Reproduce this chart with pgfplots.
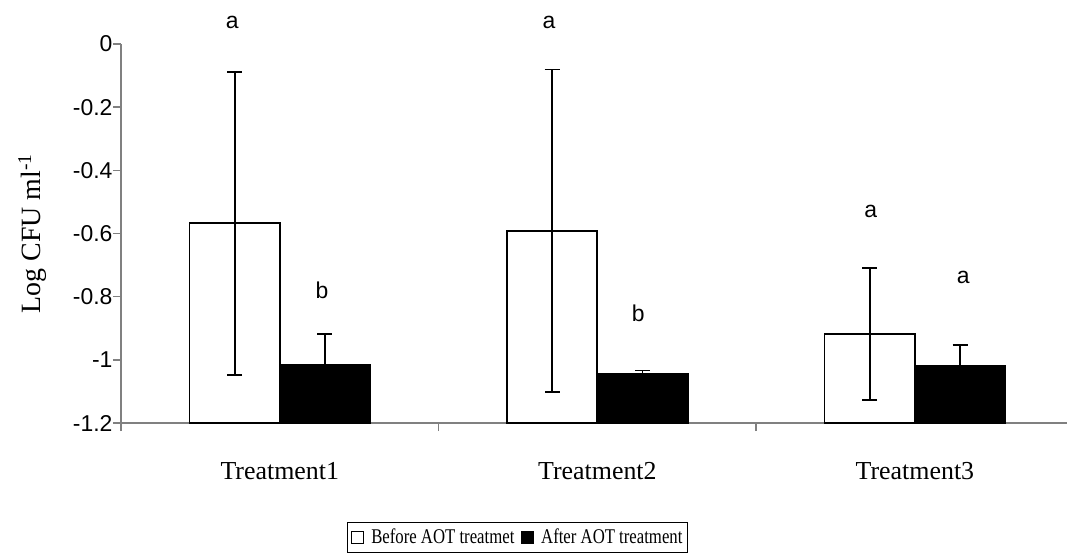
\documentclass[border=0pt]{standalone}
\usepackage{pgfplots}
\pgfplotsset{compat=1.18}
\usepackage{pgfplotstable}
\usepackage{fontspec}
\setmainfont{Liberation Serif}
\newfontfamily\arial{Liberation Sans}
\newfontfamily\legfont[FakeStretch=0.8]{Liberation Serif}

\pgfplotstableread{
x  b       eb     a       ea
1  -0.568  0.480  -1.015  0.098
2  -0.591  0.510  -1.045  0.011
3  -0.917  0.209  -1.020  0.066
}\datatable

\begin{document}
\begin{tikzpicture}
\begin{axis}[
  at={(0,0)}, anchor=south west,
  scale only axis,
  width=946bp, height=379bp,
  xmin=0.5, xmax=3.479,
  ymin=0, ymax=1.2,
  axis x line=bottom, axis y line=left,
  axis line style={-, draw=gray, line width=1.4bp},
  tick style={draw=gray, line width=1.4bp},
  tick align=outside,
  major tick length=8bp,
  xtick={0.5,1.5,2.5},
  xticklabels={,,},
  extra x ticks={1,2,3},
  extra x tick labels={Treatment1,Treatment2,Treatment3},
  extra x tick style={major tick length=0pt,
    tick label style={anchor=base, yshift=-56bp, font=\fontsize{26}{30}\selectfont}},
  ytick={0,0.2,0.4,0.6,0.8,1.0,1.2},
  yticklabels={-1.2,-1,-0.8,-0.6,-0.4,-0.2,0},
  yticklabel style={font=\arial\fontsize{23}{27}\selectfont, xshift=3bp},
  ylabel={Log CFU ml\textsuperscript{-1}},
  every axis y label/.style={at={(axis description cs:-0.094,0.5)}, rotate=90, anchor=center,
    font=\fontsize{28}{32}\selectfont},
  ybar=0pt, bar width=0.2845,
  clip=false,
  legend columns=2,
  legend style={at={(axis description cs:0.4191,-0.3008)}, anchor=center,
    draw=black, line width=0.7bp, font=\legfont\fontsize{21}{25}\selectfont,
    inner xsep=3bp, inner ysep=5bp,
    /tikz/every even column/.append style={column sep=4bp}},
  legend image code/.code={\draw[#1, line width=0.9bp] (0bp,-6bp) rectangle (12bp,6bp); \path (0bp,0bp) (17bp,0bp);},
]
\addplot[fill=white, draw=black, line width=1.8bp,
  error bars/.cd, y dir=both, y explicit,
  error bar style={black, line width=1.8bp},
  error mark options={rotate=90, mark size=7.5bp, line width=1.8bp, black}]
  table[x=x, y expr=\thisrow{b}+1.2, y error=eb]{\datatable};
\addlegendentry{Before AOT treatmet}
\addplot[fill=black, draw=black, line width=1.8bp,
  error bars/.cd, y dir=both, y explicit,
  error bar style={black, line width=1.8bp},
  error mark options={rotate=90, mark size=7.5bp, line width=1.8bp, black}]
  table[x=x, y expr=\thisrow{a}+1.2, y error=ea]{\datatable};
\addlegendentry{After AOT treatment}

\node[font=\arial\fontsize{23}{27}\selectfont] at (axis cs:0.85,1.268) {a};
\node[font=\arial\fontsize{23}{27}\selectfont] at (axis cs:1.133,0.421) {b};
\node[font=\arial\fontsize{23}{27}\selectfont] at (axis cs:1.848,1.268) {a};
\node[font=\arial\fontsize{23}{27}\selectfont] at (axis cs:2.129,0.347) {b};
\node[font=\arial\fontsize{23}{27}\selectfont] at (axis cs:2.861,0.669) {a};
\node[font=\arial\fontsize{23}{27}\selectfont] at (axis cs:3.152,0.460) {a};
\end{axis}
\pgfresetboundingbox
\path (-121bp,-135bp) rectangle (947bp,423bp);
\end{tikzpicture}
\end{document}
